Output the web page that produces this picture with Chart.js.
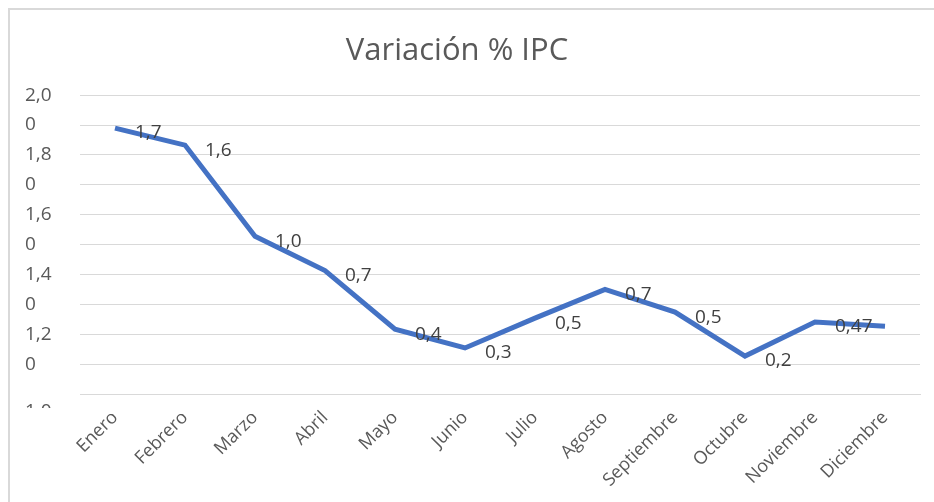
<!DOCTYPE html>
<html>
<head>
<meta charset="utf-8">
<script src="https://cdn.jsdelivr.net/npm/chart.js@4"></script>
<style>
    html, body { margin: 0; padding: 0; background: #ffffff; overflow: hidden; }
    #frame { position: absolute; left: 8px; top: 8px; width: 1000px; height: 1000px; border: 2px solid #d9d9d9; }
    #ipcChart { position: absolute; left: 0; top: 0; }
</style>
</head>
<body>
<div id="frame"></div>
<canvas id="ipcChart" width="934" height="502"></canvas>
<script>
const months = ['Enero', 'Febrero', 'Marzo', 'Abril', 'Mayo', 'Junio', 'Julio', 'Agosto', 'Septiembre', 'Octubre', 'Noviembre', 'Diciembre'];
// line heights
const lineValues = [1.89, 1.833, 1.528, 1.413, 1.217, 1.154, 1.254, 1.350, 1.274, 1.127, 1.241, 1.227];
// text shown beside each point (diciembre has none)
const pointLabels = ['1,7', '1,6', '1,0', '0,7', '0,4', '0,3', '0,5', '0,7', '0,5', '0,2', '0,47', ''];
const yTickValues = [2.0, 1.9, 1.8, 1.7, 1.6, 1.5, 1.4, 1.3, 1.2, 1.1, 1.0];
const yTickLabels = ['2,0', '0', '1,8', '0', '1,6', '0', '1,4', '0', '1,2', '0', '1,0'];

const textColor = '#595959';
const fontFamily = "'Open Sans', sans-serif";

function tickLabelFor(value) {
    const i = yTickValues.findIndex(v => Math.abs(v - value) < 1e-6);
    return i >= 0 ? yTickLabels[i] : '';
}

const pointLabelPlugin = {
    id: 'pointLabels',
    afterLayout(chart) {
        // title sits a bit left of the canvas centre in the original
        chart.titleBlock.left = 0;
        chart.titleBlock.right = chart.width - 20;
    },
    afterDatasetsDraw(chart) {
        const ctx = chart.ctx;
        const meta = chart.getDatasetMeta(0);
        ctx.save();
        ctx.font = `19px ${fontFamily}`;
        ctx.fillStyle = '#404040';
        ctx.textAlign = 'left';
        ctx.textBaseline = 'middle';
        meta.data.forEach((pt, i) => {
            if (pointLabels[i]) ctx.fillText(pointLabels[i], pt.x + 20, pt.y + 5);
        });
        ctx.restore();
    },
    afterDraw(chart) {
        // bottom value label is cut off in the original, only its top shows
        const ctx = chart.ctx;
        const y = chart.scales.y;
        const base = y.getPixelForValue(1.0);
        ctx.save();
        ctx.beginPath();
        ctx.rect(0, base + 8, chart.chartArea.left - 5, 6);
        ctx.clip();
        ctx.font = `19px ${fontFamily}`;
        ctx.fillStyle = textColor;
        ctx.textAlign = 'left';
        ctx.textBaseline = 'middle';
        ctx.fillText(yTickLabels[yTickLabels.length - 1], y.left, base + 18);
        ctx.restore();
    }
};

new Chart(document.getElementById('ipcChart').getContext('2d'), {
    type: 'line',
    data: {
        labels: months,
        datasets: [{
            label: 'Variación % IPC',
            data: lineValues,
            borderColor: '#4472C4',
            borderWidth: 5,
            pointRadius: 0,
            fill: false,
            tension: 0
        }]
    },
    options: {
        responsive: false,
        animation: false,
        devicePixelRatio: 1,
        layout: { padding: { left: 25, right: 14, top: 0, bottom: 0 } },
        plugins: {
            legend: { display: false },
            tooltip: { enabled: false },
            title: {
                display: true,
                text: 'Variación % IPC',
                color: textColor,
                font: { family: fontFamily, size: 31, weight: 'normal' },
                padding: { top: 33, bottom: 25 }
            }
        },
        scales: {
            x: {
                offset: true,
                grid: { display: false },
                border: { color: '#d9d9d9' },
                ticks: {
                    color: textColor,
                    font: { family: fontFamily, size: 18 },
                    minRotation: 45,
                    maxRotation: 45,
                    autoSkip: false,
                    padding: 5
                },
                afterFit(scale) { scale.height = 108; }
            },
            y: {
                min: 1.0,
                max: 2.0,
                afterBuildTicks(scale) {
                    scale.ticks = yTickValues.map(v => ({ value: v }));
                },
                grid: { color: '#d9d9d9', drawTicks: false },
                border: { display: false },
                ticks: {
                    color: textColor,
                    font: { family: fontFamily, size: 19 },
                    crossAlign: 'far',
                    callback: (value) => value === 1.0 ? '' : tickLabelFor(value)
                },
                afterFit(scale) { scale.width = 55; }
            }
        }
    },
    plugins: [pointLabelPlugin]
});
</script>
</body>
</html>
